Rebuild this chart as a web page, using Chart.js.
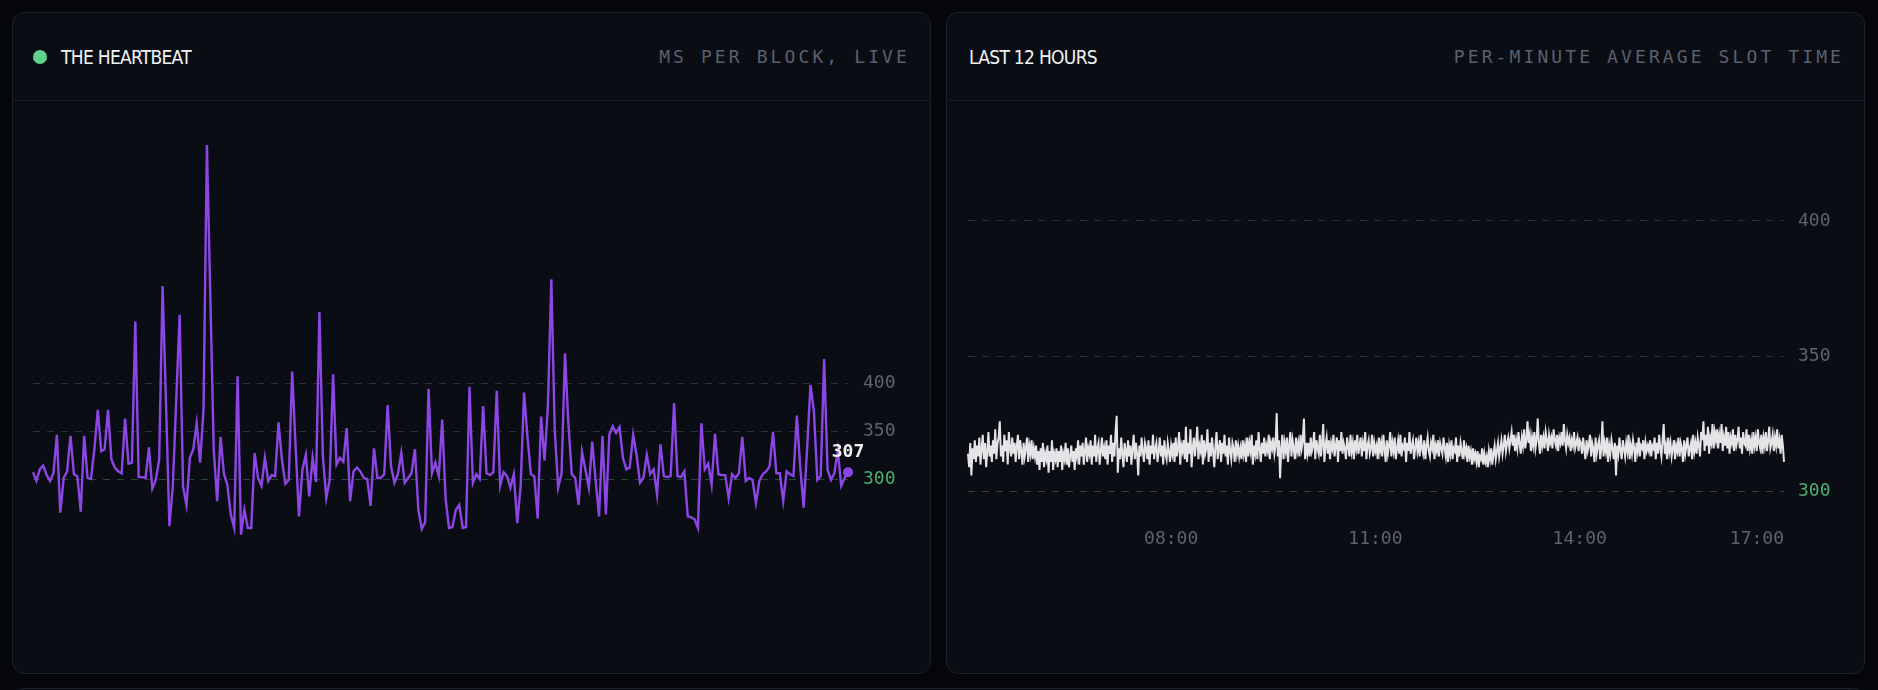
<!DOCTYPE html>
<html>
<head>
<meta charset="utf-8">
<script src="https://cdn.jsdelivr.net/npm/chart.js@4.4.1/dist/chart.umd.min.js"></script>
<style>
  html, body { margin: 0; padding: 0; background: #050609; width: 1878px; height: 690px; overflow: hidden; }
  .card { position: absolute; top: 12px; width: 919px; height: 662px; box-sizing: border-box; background: #0b0d14; border: 1px solid #1b202c; border-radius: 12px; overflow: hidden; }
  .stub { position: absolute; top: 688px; left: 12px; width: 1853px; height: 40px; box-sizing: border-box; background: #0b0d14; border: 1px solid #1b202c; border-radius: 12px; }
  .head { height: 87px; border-bottom: 1px solid #161b26; display: flex; align-items: center; justify-content: space-between; padding-right: 20px; }
  .title { font-family: "Liberation Sans Narrow", "DejaVu Sans Condensed", sans-serif; font-size: 19px; color: #f2f3f5; letter-spacing: -0.7px; display: flex; align-items: center; }
  .dot { width: 14px; height: 14px; border-radius: 50%; background: #5fd38d; margin-right: 14px; }
  .sub { font-family: "DejaVu Sans Mono", monospace; font-size: 18px; letter-spacing: 3.1px; color: #5a606e; }
  .body { position: relative; width: 917px; height: 572px; }
</style>
</head>
<body>
<div class="card" style="left:12px">
  <div class="head" style="padding-left:20px">
    <div class="title"><span class="dot"></span>THE HEARTBEAT</div>
    <div class="sub">MS PER BLOCK, LIVE</div>
  </div>
  <div class="body"><canvas id="beatChart"></canvas></div>
</div>
<div class="card" style="left:946px">
  <div class="head" style="padding-left:22px">
    <div class="title">LAST 12 HOURS</div>
    <div class="sub">PER-MINUTE AVERAGE SLOT TIME</div>
  </div>
  <div class="body"><canvas id="slotChart"></canvas></div>
</div>
<div class="stub"></div>
<script>
// ms per block, last 240 blocks
const beatValues = [
  307,298,310,314,304,298,306,346,265,301,308,345,305,303,266,345,301,300,331,372,
  329,331,372,320,312,308,306,363,316,317,464,302,302,301,333,290,299,320,501,380,
  251,292,382,471,292,273,322,331,358,317,372,648,490,331,277,344,305,294,263,249,
  407,242,268,249,249,327,301,293,322,298,304,303,359,320,295,299,412,334,261,310,
  325,282,322,297,474,324,280,299,409,315,322,318,353,277,308,312,308,301,300,272,
  332,301,301,305,377,313,296,305,327,296,301,306,331,268,248,255,394,306,317,303,
  362,279,249,250,268,273,249,250,396,296,305,300,376,306,304,307,392,293,307,303,
  291,305,254,292,390,344,305,303,259,365,319,376,508,351,291,306,431,358,305,301,
  273,328,310,291,339,298,261,345,263,346,355,348,354,322,310,312,346,325,296,301,
  325,305,310,284,336,303,302,303,379,303,302,308,261,260,258,249,358,310,316,294,
  347,305,304,304,280,305,301,306,344,298,301,299,275,298,305,308,313,349,306,306,
  277,308,305,303,366,312,270,331,398,371,299,303,425,310,299,306,330,293,301,307
];

// per-minute average slot time, 05:01 .. 17:00
const slotValues = [
  314,309,318,306,316,312,319,311,317,313,320,310,316,321,312,318,309,315,322,313,
  317,311,319,314,323,312,318,320,326,313,317,311,321,315,319,310,322,316,313,320,
  314,318,311,317,321,312,319,315,310,318,313,316,320,311,317,314,319,312,316,313,
  317,310,315,308,316,311,318,309,314,312,317,307,315,311,319,308,314,312,316,309,
  315,311,317,308,314,312,318,310,316,309,313,317,311,315,308,316,313,319,310,317,
  313,318,310,315,320,311,316,314,319,310,317,313,321,311,316,318,310,315,320,313,
  316,312,319,310,317,314,321,311,318,313,322,328,307,316,312,320,314,309,318,315,
  311,319,313,317,310,316,321,312,318,314,306,317,313,320,315,311,318,316,312,319,
  310,317,314,321,312,316,318,311,315,320,313,317,310,319,314,312,318,315,311,317,
  314,318,311,320,313,316,322,310,317,315,319,312,324,311,318,314,323,309,316,320,
  313,318,324,312,317,315,321,310,319,314,316,323,311,318,313,320,315,309,317,322,
  312,316,319,311,318,314,321,313,317,310,320,315,312,318,316,311,319,314,317,313,
  316,312,319,314,317,311,320,313,318,315,321,310,317,314,319,312,322,316,311,318,
  314,320,313,317,315,321,312,318,316,320,314,317,329,313,319,305,316,321,312,318,
  315,320,311,317,322,313,319,316,312,320,315,318,313,321,316,319,327,312,318,314,
  318,313,320,315,317,322,312,319,316,314,321,313,318,325,311,317,320,314,319,312,
  318,316,321,313,317,320,311,319,315,322,314,318,316,312,320,317,313,321,315,318,
  312,319,316,321,314,317,320,313,318,315,322,312,317,319,314,316,321,313,318,315,
  317,312,320,315,318,313,321,316,311,319,314,317,322,313,318,315,320,312,316,319,
  314,321,313,317,316,320,311,318,315,322,314,317,319,312,316,320,315,318,313,321,
  316,314,319,312,317,320,315,313,318,316,321,312,317,315,319,313,318,316,314,320,
  316,313,318,311,317,314,319,312,316,315,320,311,317,313,318,315,312,319,314,316,
  311,317,313,315,310,316,312,314,311,315,309,313,312,316,310,314,311,313,309,315,
  312,316,310,314,317,312,315,318,313,316,319,314,317,321,315,318,320,316,319,322,
  317,321,315,319,316,322,318,314,320,317,323,316,319,326,318,321,315,320,317,322,
  316,319,327,318,314,321,317,320,316,322,319,315,321,318,320,316,323,319,317,321,
  315,320,318,322,317,325,319,316,321,318,320,315,319,317,322,316,318,320,315,319,
  318,314,320,316,312,319,315,317,321,313,318,316,311,320,314,317,319,312,316,326,
  313,318,315,320,311,317,314,319,316,312,318,306,317,314,320,315,312,319,316,313,
  318,315,321,312,317,314,319,316,311,318,315,320,313,317,316,319,312,318,315,317,
  315,319,313,317,316,320,312,318,314,321,316,313,319,325,314,317,312,320,315,318,
  313,316,319,312,317,315,320,313,318,316,311,319,314,317,320,313,316,318,312,321,
  315,318,314,320,317,313,322,319,326,315,321,317,324,314,320,318,325,316,322,319,
  323,316,321,318,325,315,320,317,324,316,322,314,320,318,323,315,321,317,319,324,
  316,320,314,322,318,317,323,315,321,316,319,314,322,317,320,315,323,318,316,321,
  314,320,317,322,315,319,324,316,318,321,315,320,317,323,316,319,314,321,317,311
];

const yTicks = [300, 350, 400];
const timeTicks = ['08:00', '11:00', '14:00', '17:00'];
const firstMinute = 5 * 60 + 1;

const slotLabels = slotValues.map(function(v, i) {
    const m = firstMinute + i;
    return String(Math.floor(m / 60)).padStart(2, '0') + ':' + String(m % 60).padStart(2, '0');
});

const mono = 'DejaVu Sans Mono';
const purple = '#8c46e6';
const gray = '#5c6272';
const green = '#4caf6e';
const gridGray = '#2c313c';
const gridGreen = '#224c35';

function yAxis(min, max, width, pad) {
    return {
        position: 'right',
        min: min,
        max: max,
        afterBuildTicks: function(scale) {
            scale.ticks = yTicks.map(function(v) { return { value: v }; });
        },
        afterFit: function(scale) { scale.width = width; },
        grid: {
            drawTicks: false,
            lineWidth: 1,
            color: function(c) { return c.tick && c.tick.value === 300 ? gridGreen : gridGray; }
        },
        border: { display: false, dash: [7, 7] },
        ticks: {
            padding: pad,
            color: function(c) { return c.tick && c.tick.value === 300 ? green : gray; },
            font: { family: mono, size: 18 }
        }
    };
}

// value label above the live point
const lastLabel = {
    id: 'lastLabel',
    afterDatasetsDraw: function(chart) {
        const meta = chart.getDatasetMeta(0);
        const pt = meta.data[meta.data.length - 1];
        const ctx = chart.ctx;
        ctx.save();
        ctx.font = 'bold 18px "' + mono + '"';
        ctx.fillStyle = '#f2f3f5';
        ctx.textAlign = 'center';
        ctx.textBaseline = 'middle';
        ctx.fillText(String(beatValues[beatValues.length - 1]), pt.x, pt.y - 20);
        ctx.restore();
    }
};

new Chart(document.getElementById('beatChart'), {
    type: 'line',
    data: {
        labels: beatValues.map(function(v, i) { return i; }),
        datasets: [{
            data: beatValues,
            borderColor: purple,
            borderWidth: 2.4,
            tension: 0,
            clip: false,
            pointRadius: beatValues.map(function(v, i) { return i === beatValues.length - 1 ? 5 : 0; }),
            pointBackgroundColor: purple,
            pointBorderWidth: 0
        }]
    },
    options: {
        responsive: true,
        maintainAspectRatio: false,
        animation: false,
        events: [],
        layout: { padding: { left: 20, right: 0, top: 26, bottom: 26 } },
        plugins: { legend: { display: false }, tooltip: { enabled: false } },
        scales: {
            x: { display: false },
            y: yAxis(125, 666.67, 82, 15)
        }
    },
    plugins: [lastLabel]
});

new Chart(document.getElementById('slotChart'), {
    type: 'line',
    data: {
        labels: slotLabels,
        datasets: [{
            data: slotValues,
            borderColor: '#e4e4e6',
            borderWidth: 2,
            tension: 0,
            pointRadius: 0
        }]
    },
    options: {
        responsive: true,
        maintainAspectRatio: false,
        animation: false,
        events: [],
        layout: { padding: { left: 21, right: 0, top: 30, bottom: 0 } },
        plugins: { legend: { display: false }, tooltip: { enabled: false } },
        scales: {
            x: {
                grid: { display: false, drawTicks: false },
                border: { display: false },
                afterFit: function(scale) { scale.height = 157; },
                ticks: {
                    autoSkip: false,
                    maxRotation: 0,
                    minRotation: 0,
                    align: 'inner',
                    padding: 13,
                    color: gray,
                    font: { family: mono, size: 18 },
                    callback: function(v, i) {
                        return timeTicks.indexOf(slotLabels[i]) >= 0 ? slotLabels[i] : '';
                    }
                }
            },
            y: yAxis(291.0, 433.25, 80, 14)
        }
    }
});
</script>
</body>
</html>
